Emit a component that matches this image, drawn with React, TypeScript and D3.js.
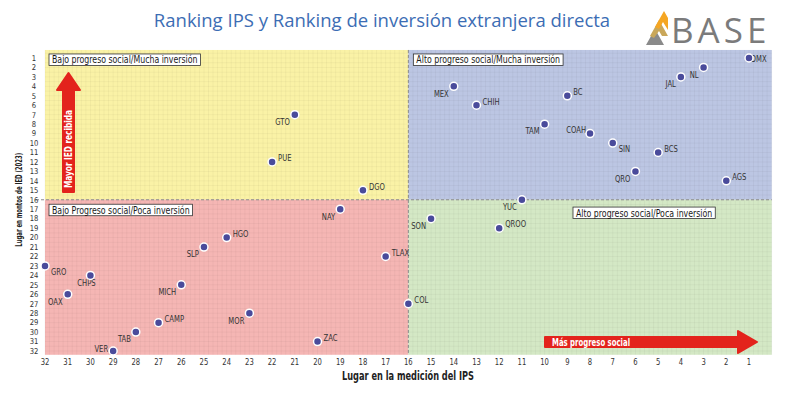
import React, { useRef, useEffect } from 'react';
import * as d3 from 'd3';

// state codes, IPS rank (x) and FDI rank (y)
const states = ['GTO', 'PUE', 'DGO', 'CDMX', 'NL', 'JAL', 'MEX', 'BC', 'CHIH', 'TAM', 'COAH', 'SIN', 'BCS', 'QRO', 'AGS', 'YUC',
  'NAY', 'HGO', 'SLP', 'TLAX', 'GRO', 'CHPS', 'MICH', 'OAX', 'COL', 'MOR', 'CAMP', 'TAB', 'ZAC', 'VER', 'SON', 'QROO'];
const ipsRank = [21, 22, 18, 1, 3, 4, 14, 9, 13, 10, 8, 7, 5, 6, 2, 11,
  19, 24, 25, 17, 32, 30, 26, 31, 16, 23, 27, 28, 20, 29, 15, 12];
const iedRank = [7, 12, 15, 1, 2, 3, 4, 5, 6, 8, 9, 10, 11, 13, 14, 16,
  17, 20, 21, 22, 23, 24, 25, 26, 27, 28, 29, 30, 31, 32, 18, 19];
// where each label sits relative to its dot
const labelSide = ['lb', 'rt', 'rt', 'c', 'lb', 'lb', 'lb', 'rt', 'rt', 'lb', 'lt', 'rb', 'rt', 'lb', 'rt', 'lb',
  'lb', 'rt', 'lb', 'rt', 'rb', 'b', 'lb', 'lb', 'rt', 'lb', 'rt', 'lb', 'rt', 'l', 'lb', 'rt'];

const ticks = d3.range(1, 33);
const quadrantLabels = [
  'Bajo progreso social/Mucha inversión',
  'Alto progreso social/Mucha inversión',
  'Bajo Progreso social/Poca inversión',
  'Alto progreso social/Poca inversión',
];

const W = 800;
const H = 398;
const narrow = "'DejaVu Sans', sans-serif";

// squeezed condensed text, placed at (x, y)
const sq = (parent: any, x: number, y: number, size: number, sx = 0.8) =>
  parent.append('g')
    .attr('transform', `translate(${x},${y}) scale(${sx},1)`)
    .append('text')
    .attr('font-family', narrow)
    .attr('font-size', `${size}px`)
    .style('font-stretch', 'condensed');

const App: React.FC = () => {
  const svgRef = useRef<SVGSVGElement>(null);

  useEffect(() => {
    document.body.style.margin = '0';
    if (!svgRef.current) return;
    const svg = d3.select(svgRef.current);
    svg.selectAll('*').remove();

    const x = d3.scaleLinear().domain([32, 1]).range([45, 749]);
    const y = d3.scaleLinear().domain([1, 32]).range([58, 351]);

    const left = x(32), right = x(0), top = y(0.15), bottom = y(32.4);
    const midX = x(16), midY = y(16);

    // Title
    svg.append('text')
      .attr('x', 382).attr('y', 27)
      .attr('text-anchor', 'middle')
      .attr('fill', '#3c6db4')
      .attr('font-family', "'Open Sans', sans-serif")
      .attr('font-size', '18.5px')
      .text('Ranking IPS y Ranking de inversión extranjera directa');

    // Logo
    const logo = svg.append('g');
    logo.append('path').attr('d', 'M646,45 L655,29 L664,45 Z').attr('fill', '#8a8a8a');
    logo.append('path').attr('d', 'M650,36 L659,20 L668,36 L662,36 L659,31 L654,38 Z').attr('fill', '#c9a75a');
    logo.append('path').attr('d', 'M655,27 L664,11 L668,18 L668,30 L663,22 L659,29 Z').attr('fill', '#f5a623');
    logo.append('text')
      .attr('x', 671).attr('y', 43)
      .attr('fill', '#7b7b7b')
      .attr('font-family', "'Open Sans', sans-serif")
      .attr('font-size', '35px')
      .attr('letter-spacing', '4px')
      .text('BASE');

    // Quadrant backgrounds
    const quads = [
      { x0: left, x1: midX, y0: top, y1: midY, fill: '#faf2a6' },
      { x0: midX, x1: right, y0: top, y1: midY, fill: '#bcc6e3' },
      { x0: left, x1: midX, y0: midY, y1: bottom, fill: '#f5b6b4' },
      { x0: midX, x1: right, y0: midY, y1: bottom, fill: '#d4e8c5' },
    ];
    quads.forEach(q => {
      svg.append('rect')
        .attr('x', q.x0).attr('y', q.y0)
        .attr('width', q.x1 - q.x0).attr('height', q.y1 - q.y0)
        .attr('fill', q.fill);
    });

    // Fine grid
    const grid = svg.append('g').attr('stroke', '#000').attr('stroke-opacity', 0.035).attr('stroke-width', 1);
    d3.range(0, 32.01, 0.2).forEach(v => {
      const px = x(v);
      if (px < left || px > right) return;
      grid.append('line').attr('x1', px).attr('x2', px).attr('y1', top).attr('y2', bottom);
    });
    d3.range(0.5, 32.5, 0.5).forEach(v => {
      const py = y(v);
      if (py < top || py > bottom) return;
      grid.append('line').attr('x1', left).attr('x2', right).attr('y1', py).attr('y2', py);
    });

    // Dividers
    svg.append('line')
      .attr('x1', midX).attr('x2', midX).attr('y1', top).attr('y2', bottom)
      .attr('stroke', '#8a8a8a').attr('stroke-dasharray', '3,2');
    svg.append('line')
      .attr('x1', 36).attr('x2', right).attr('y1', midY).attr('y2', midY)
      .attr('stroke', '#8a8a8a').attr('stroke-dasharray', '3,2');

    // Quadrant labels
    const qPos = [
      { x: left + 4, y: top + 4 },
      { x: midX + 5, y: top + 4 },
      { x: left + 4, y: y(17) - 5 },
      { x: x(8.75), y: y(17.3) - 5 },
    ];
    quadrantLabels.forEach((t, i) => {
      const g = svg.append('g').attr('transform', `translate(${qPos[i].x},${qPos[i].y})`);
      const rect = g.append('rect').attr('height', 11.5).attr('fill', '#fff').attr('stroke', '#333').attr('stroke-width', 0.8);
      const txt = sq(g, 3, 9.5, 10.5, 0.83).attr('fill', '#1a1a1a').text(t);
      const w = (txt.node() as SVGTextElement).getComputedTextLength() * 0.83;
      rect.attr('width', w + 6);
    });

    // Arrows
    svg.append('path')
      .attr('d', 'M63,192 L63,90 L57,90 L68.5,73 L80,90 L74,90 L74,192 Z')
      .attr('fill', '#e3231c').attr('stroke', '#e3231c').attr('stroke-linejoin', 'round').attr('stroke-width', 2);
    svg.append('text')
      .attr('transform', 'translate(72,188) rotate(-90)')
      .attr('fill', '#fff')
      .attr('font-family', narrow)
      .attr('font-size', '10.5px')
      .attr('font-weight', 'bold')
      .style('font-stretch', 'condensed')
      .attr('textLength', 78).attr('lengthAdjust', 'spacingAndGlyphs')
      .text('Mayor IED recibida');

    svg.append('path')
      .attr('d', 'M545,337 L738,337 L738,331 L757,342 L738,353 L738,347 L545,347 Z')
      .attr('fill', '#e3231c').attr('stroke', '#e3231c').attr('stroke-linejoin', 'round').attr('stroke-width', 2);
    svg.append('text')
      .attr('x', 552).attr('y', 345.5)
      .attr('fill', '#fff')
      .attr('font-family', narrow)
      .attr('font-size', '10.5px')
      .attr('font-weight', 'bold')
      .style('font-stretch', 'condensed')
      .attr('textLength', 78).attr('lengthAdjust', 'spacingAndGlyphs')
      .text('Más progreso social');

    // Axes tick labels
    ticks.forEach(t => {
      sq(svg, x(t), 365, 9.5, 0.8).attr('text-anchor', 'middle').attr('fill', '#333').text(t);
      sq(svg, 34, y(t), 8, 0.95).attr('text-anchor', 'middle').attr('dy', '0.35em').attr('fill', '#333').text(t);
    });

    // Axis titles
    svg.append('text')
      .attr('x', 408).attr('y', 380)
      .attr('text-anchor', 'middle')
      .attr('font-family', narrow)
      .attr('font-size', '12px')
      .attr('font-weight', 'bold')
      .style('font-stretch', 'condensed')
      .attr('textLength', 132).attr('lengthAdjust', 'spacingAndGlyphs')
      .attr('fill', '#222')
      .text('Lugar en la medición del IPS');
    svg.append('text')
      .attr('transform', `translate(22,${midY}) rotate(-90)`)
      .attr('text-anchor', 'middle')
      .attr('font-family', narrow)
      .attr('font-size', '9px')
      .attr('font-weight', 'bold')
      .style('font-stretch', 'condensed')
      .attr('textLength', 94).attr('lengthAdjust', 'spacingAndGlyphs')
      .attr('fill', '#222')
      .text('Lugar en montos de IED (2023)');

    // Point labels
    const offsets: Record<string, { dx: number; dy: number; anchor: string }> = {
      lb: { dx: -5, dy: 7, anchor: 'end' },
      rt: { dx: 6, dy: -4, anchor: 'start' },
      rb: { dx: 6, dy: 6, anchor: 'start' },
      lt: { dx: -4, dy: -4, anchor: 'end' },
      b: { dx: -4, dy: 7, anchor: 'middle' },
      l: { dx: -5, dy: -2, anchor: 'end' },
      c: { dx: -3, dy: 1, anchor: 'start' },
    };
    states.forEach((s, i) => {
      const o = offsets[labelSide[i]];
      sq(svg, x(ipsRank[i]) + o.dx, y(iedRank[i]) + o.dy, 9.5, 0.8)
        .attr('dy', '0.35em')
        .attr('text-anchor', o.anchor)
        .attr('fill', '#333')
        .text(s);
    });

    // Points
    svg.append('g').selectAll('circle').data(states).join('circle')
      .attr('cx', (_, i) => x(ipsRank[i]))
      .attr('cy', (_, i) => y(iedRank[i]))
      .attr('r', 4)
      .attr('fill', '#4a4b9b')
      .attr('stroke', '#fff')
      .attr('stroke-width', 1.5);
  }, []);

  return <svg ref={svgRef} width={W} height={H} style={{ display: 'block', background: '#fff' }} />;
};

export default App;
